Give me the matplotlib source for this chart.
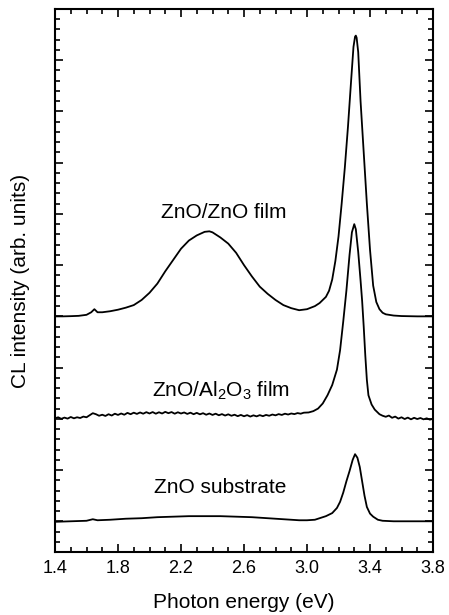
import matplotlib
matplotlib.use("Agg")
import matplotlib.pyplot as plt
from matplotlib.ticker import MultipleLocator

plt.rcParams['font.family'] = ['Liberation Sans', 'DejaVu Sans']
plt.rcParams['mathtext.fontset'] = 'custom'
plt.rcParams['mathtext.rm'] = 'Liberation Sans'

# ZnO/ZnO film (offset +20)
x_film = [1.40, 1.45, 1.50, 1.55, 1.60, 1.63, 1.65, 1.67, 1.70, 1.75, 1.80, 1.85,
          1.90, 1.95, 2.00, 2.05, 2.10, 2.15, 2.20, 2.25, 2.30, 2.35, 2.38, 2.40,
          2.45, 2.50, 2.55, 2.60, 2.65, 2.70, 2.75, 2.80, 2.85, 2.90, 2.95, 3.00,
          3.05, 3.08, 3.10, 3.12, 3.14, 3.16, 3.18, 3.20, 3.22, 3.24, 3.26, 3.28,
          3.295, 3.305, 3.31, 3.315, 3.325, 3.34, 3.36, 3.38, 3.40, 3.42, 3.44, 3.46,
          3.48, 3.50, 3.55, 3.60, 3.70, 3.80]
y_film = [20.00, 20.00, 20.02, 20.05, 20.15, 20.40, 20.70, 20.40, 20.40, 20.50, 20.65, 20.85,
          21.10, 21.60, 22.30, 23.20, 24.40, 25.50, 26.60, 27.40, 27.90, 28.25, 28.30, 28.20,
          27.70, 27.10, 26.20, 25.00, 23.90, 22.90, 22.20, 21.60, 21.10, 20.80, 20.60, 20.70,
          21.00, 21.30, 21.60, 21.90, 22.50, 23.60, 25.40, 27.80, 31.00, 34.50, 38.50, 43.00,
          46.30, 47.30, 47.40, 47.20, 45.80, 41.00, 36.00, 31.00, 26.50, 23.00, 21.40, 20.70,
          20.35, 20.20, 20.08, 20.03, 20.00, 20.00]

# ZnO/Al2O3 film (offset +10)
x_al = [1.40, 1.42, 1.44, 1.46, 1.48, 1.50, 1.52, 1.54, 1.56, 1.58, 1.60, 1.62,
        1.64, 1.66, 1.68, 1.70, 1.72, 1.74, 1.76, 1.78, 1.80, 1.82, 1.84, 1.86,
        1.88, 1.90, 1.92, 1.94, 1.96, 1.98, 2.00, 2.02, 2.04, 2.06, 2.08, 2.10,
        2.12, 2.14, 2.16, 2.18, 2.20, 2.22, 2.24, 2.26, 2.28, 2.30, 2.32, 2.34,
        2.36, 2.38, 2.40, 2.42, 2.44, 2.46, 2.48, 2.50, 2.52, 2.54, 2.56, 2.58,
        2.60, 2.62, 2.64, 2.66, 2.68, 2.70, 2.72, 2.74, 2.76, 2.78, 2.80, 2.82,
        2.84, 2.86, 2.88, 2.90, 2.92, 2.94, 2.96, 2.98, 3.01, 3.04, 3.07, 3.10,
        3.13, 3.16, 3.19, 3.21, 3.23, 3.25, 3.27, 3.285, 3.30, 3.31, 3.325, 3.34,
        3.35, 3.36, 3.37, 3.38, 3.39, 3.41, 3.43, 3.46, 3.48, 3.50, 3.52, 3.54,
        3.56, 3.58, 3.60, 3.62, 3.64, 3.66, 3.68, 3.70, 3.72, 3.74, 3.76, 3.78, 3.80]
y_al = [10.05, 10.15, 10.00, 10.12, 10.02, 10.18, 10.05, 10.15, 10.08, 10.22, 10.15, 10.35,
        10.55, 10.45, 10.30, 10.40, 10.28, 10.45, 10.32, 10.50, 10.38, 10.52, 10.40, 10.58,
        10.45, 10.60, 10.48, 10.62, 10.50, 10.65, 10.52, 10.66, 10.50, 10.64, 10.52, 10.68,
        10.55, 10.66, 10.50, 10.64, 10.52, 10.62, 10.48, 10.60, 10.45, 10.58, 10.44, 10.55,
        10.40, 10.52, 10.38, 10.50, 10.35, 10.46, 10.32, 10.44, 10.30, 10.40, 10.26, 10.38,
        10.25, 10.36, 10.22, 10.34, 10.24, 10.36, 10.26, 10.38, 10.30, 10.42, 10.34, 10.46,
        10.38, 10.50, 10.42, 10.52, 10.46, 10.56, 10.50, 10.60, 10.62, 10.75, 11.00, 11.50,
        12.30, 13.30, 14.80, 16.70, 19.50, 22.50, 26.00, 28.20, 29.00, 28.50, 26.30, 23.50,
        21.50, 19.00, 16.20, 13.80, 12.30, 11.40, 10.90, 10.45, 10.30, 10.20, 10.32, 10.10,
        10.22, 10.02, 10.15, 9.98, 10.12, 9.95, 10.10, 9.98, 10.08, 9.95, 10.05, 9.92, 10.00]

# ZnO substrate
x_sub = [1.40, 1.50, 1.60, 1.64, 1.67, 1.75, 1.85, 1.95, 2.05, 2.15, 2.25, 2.35,
         2.45, 2.55, 2.65, 2.75, 2.85, 2.95, 3.00, 3.05, 3.08, 3.12, 3.16, 3.19,
         3.21, 3.23, 3.25, 3.27, 3.29, 3.305, 3.32, 3.335, 3.35, 3.365, 3.38, 3.40,
         3.42, 3.45, 3.48, 3.55, 3.80]
y_sub = [-0.05, 0.00, 0.05, 0.20, 0.10, 0.15, 0.25, 0.30, 0.40, 0.45, 0.50, 0.50,
         0.50, 0.45, 0.40, 0.30, 0.20, 0.10, 0.10, 0.15, 0.30, 0.50, 0.80, 1.30,
         1.90, 2.80, 3.90, 4.90, 6.00, 6.55, 6.20, 5.30, 3.90, 2.50, 1.40, 0.75,
         0.45, 0.15, 0.05, 0.00, 0.00]

labels = ["ZnO/ZnO film", r"ZnO/Al$_2$O$_3$ film", "ZnO substrate"]
label_x = [2.47, 2.457, 2.448]
label_y = [29.6, 12.2, 2.8]

fig = plt.figure(figsize=(4.49, 6.15), dpi=100)
ax = fig.add_axes([0.1225, 0.1024, 0.8419, 0.883])

ax.plot(x_film, y_film, color='black', lw=1.3)
ax.plot(x_al, y_al, color='black', lw=1.3)
ax.plot(x_sub, y_sub, color='black', lw=1.3)

for t, lx, ly in zip(labels, label_x, label_y):
    ax.text(lx, ly, t, ha='center', va='baseline', fontsize=15)

ax.set_xlim(1.4, 3.8)
ax.set_ylim(-3, 50)
ax.xaxis.set_minor_locator(MultipleLocator(0.1))
ax.yaxis.set_major_locator(MultipleLocator(5))
ax.yaxis.set_minor_locator(MultipleLocator(1))
ax.set_xticks([1.4, 1.8, 2.2, 2.6, 3.0, 3.4, 3.8])
ax.set_xticklabels(["1.4", "1.8", "2.2", "2.6", "3.0", "3.4", "3.8"])
ax.tick_params(which='both', direction='in', top=True, right=True, width=1.2)
ax.tick_params(which='major', length=6)
ax.tick_params(which='minor', length=3.5)
ax.tick_params(axis='x', labelsize=13, pad=6)
ax.tick_params(axis='y', labelleft=False)
for s in ax.spines.values():
    s.set_linewidth(1.5)

ax.set_xlabel("Photon energy (eV)", fontsize=15)
ax.set_ylabel("CL intensity (arb. units)", fontsize=15)
ax.xaxis.set_label_coords(0.5, -0.075)
ax.yaxis.set_label_coords(-0.066, 0.5)

fig.savefig("out.png", dpi=100)
